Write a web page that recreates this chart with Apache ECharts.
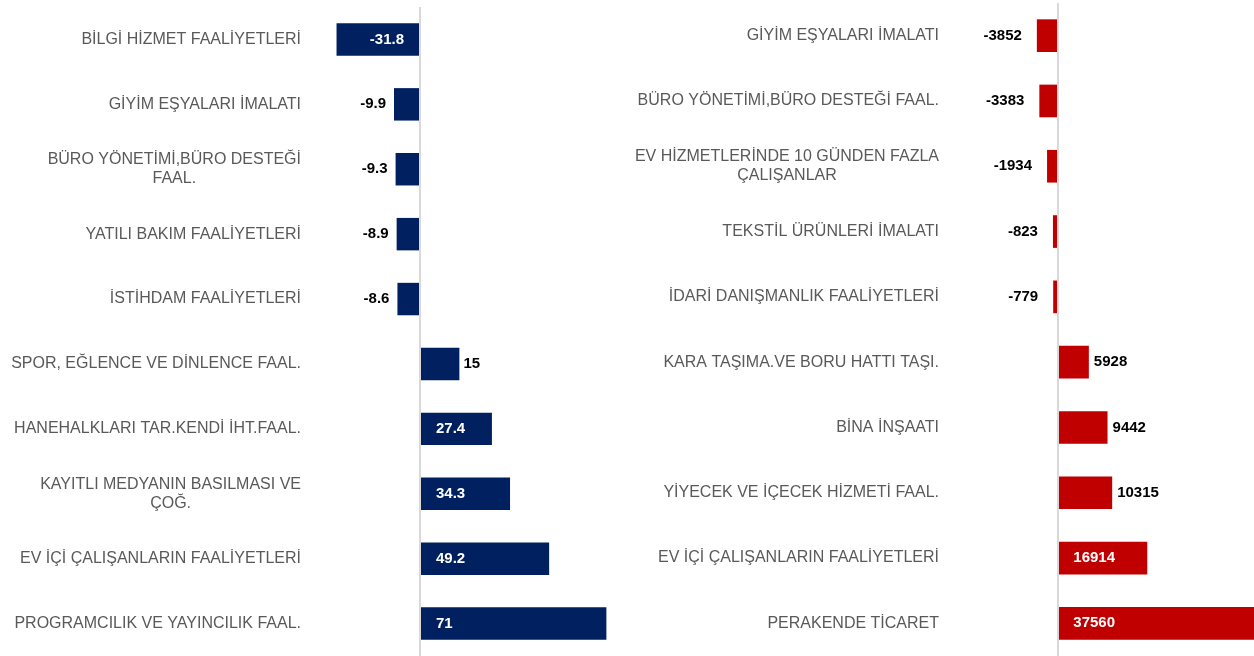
<!DOCTYPE html>
<html>
<head>
<meta charset="utf-8">
<script src="https://cdn.jsdelivr.net/npm/echarts@6/dist/echarts.min.js"></script>
<style>
html,body{margin:0;padding:0;background:#fff;overflow:hidden;width:1254px;height:656px;}
#chart{width:1271px;height:656px;}
</style>
</head>
<body>
<div id="chart"></div>
<script>
const leftCategories = [
  "BİLGİ HİZMET FAALİYETLERİ",
  "GİYİM EŞYALARI İMALATI",
  "BÜRO YÖNETİMİ,BÜRO DESTEĞİ\nFAAL.",
  "YATILI BAKIM FAALİYETLERİ",
  "İSTİHDAM FAALİYETLERİ",
  "SPOR, EĞLENCE VE DİNLENCE FAAL.",
  "HANEHALKLARI TAR.KENDİ İHT.FAAL.",
  "KAYITLI MEDYANIN BASILMASI VE\nÇOĞ.",
  "EV İÇİ ÇALIŞANLARIN FAALİYETLERİ",
  "PROGRAMCILIK VE YAYINCILIK FAAL."
];
const leftValues = [-31.8, -9.9, -9.3, -8.9, -8.6, 15, 27.4, 34.3, 49.2, 71];

const rightCategories = [
  "GİYİM EŞYALARI İMALATI",
  "BÜRO YÖNETİMİ,BÜRO DESTEĞİ FAAL.",
  "EV HİZMETLERİNDE 10 GÜNDEN FAZLA\nÇALIŞANLAR",
  "TEKSTİL ÜRÜNLERİ İMALATI",
  "İDARİ DANIŞMANLIK FAALİYETLERİ",
  "KARA TAŞIMA.VE BORU HATTI TAŞI.",
  "BİNA İNŞAATI",
  "YİYECEK VE İÇECEK HİZMETİ FAAL.",
  "EV İÇİ ÇALIŞANLARIN FAALİYETLERİ",
  "PERAKENDE TİCARET"
];
const rightValues = [-3852, -3383, -1934, -823, -779, 5928, 9442, 10315, 16914, 37560];

const FONT = "'Liberation Sans', Arial, sans-serif";

function catLabel(margin) {
  return {
    margin: margin,
    align: 'right',
    fontFamily: FONT,
    fontSize: 16,
    color: '#595959',
    formatter: function (v) {
      return v.split('\n').map(function (s) { return '{c|' + s + '}'; }).join('\n');
    },
    rich: {
      c: { align: 'center', fontFamily: FONT, fontSize: 16, color: '#595959', lineHeight: 19 }
    }
  };
}

function buildData(values, insideThreshold, negDist, posDist) {
  return values.map(function (v) {
    const inside = Math.abs(v) > insideThreshold;
    let label;
    if (inside) {
      label = { position: v < 0 ? 'insideRight' : 'insideLeft', distance: 16, color: '#ffffff' };
    } else {
      label = { position: v < 0 ? 'left' : 'right', distance: v < 0 ? negDist : posDist, color: '#000000' };
    }
    return { value: v, label: label };
  });
}

const zeroLine = {
  silent: true,
  symbol: ['none', 'none'],
  label: { show: false },
  lineStyle: { color: '#d9d9d9', width: 2, type: 'solid' },
  emphasis: { disabled: true },
  data: [{ xAxis: 0 }]
};

const chart = echarts.init(document.getElementById('chart'), null, { renderer: 'canvas' });
chart.setOption({
  animation: false,
  backgroundColor: '#ffffff',
  grid: [
    { left: 315, width: 315, top: 7, bottom: 0, containLabel: false },
    { left: 951, width: 319, top: 3, bottom: -2, containLabel: false }
  ],
  xAxis: [
    { type: 'value', gridIndex: 0, min: -40, max: 80, show: false, splitLine: { show: false } },
    { type: 'value', gridIndex: 1, min: -20000, max: 40000, show: false, splitLine: { show: false } }
  ],
  yAxis: [
    { type: 'category', gridIndex: 0, data: leftCategories, inverse: true,
      axisLine: { show: false }, axisTick: { show: false }, splitLine: { show: false },
      axisLabel: catLabel(14) },
    { type: 'category', gridIndex: 1, data: rightCategories, inverse: true,
      axisLine: { show: false }, axisTick: { show: false }, splitLine: { show: false },
      axisLabel: catLabel(12) }
  ],
  series: [
    {
      type: 'bar', xAxisIndex: 0, yAxisIndex: 0,
      data: buildData(leftValues, 20, 8, 4),
      barWidth: '50%',
      itemStyle: { color: '#002060' },
      label: { show: true, fontFamily: FONT, fontSize: 15, fontWeight: 'bold' },
      markLine: zeroLine
    },
    {
      type: 'bar', xAxisIndex: 1, yAxisIndex: 1,
      data: buildData(rightValues, 15000, 15, 5),
      barWidth: '50%',
      itemStyle: { color: '#c00000' },
      label: { show: true, fontFamily: FONT, fontSize: 15, fontWeight: 'bold' },
      markLine: zeroLine
    }
  ]
});
</script>
</body>
</html>
